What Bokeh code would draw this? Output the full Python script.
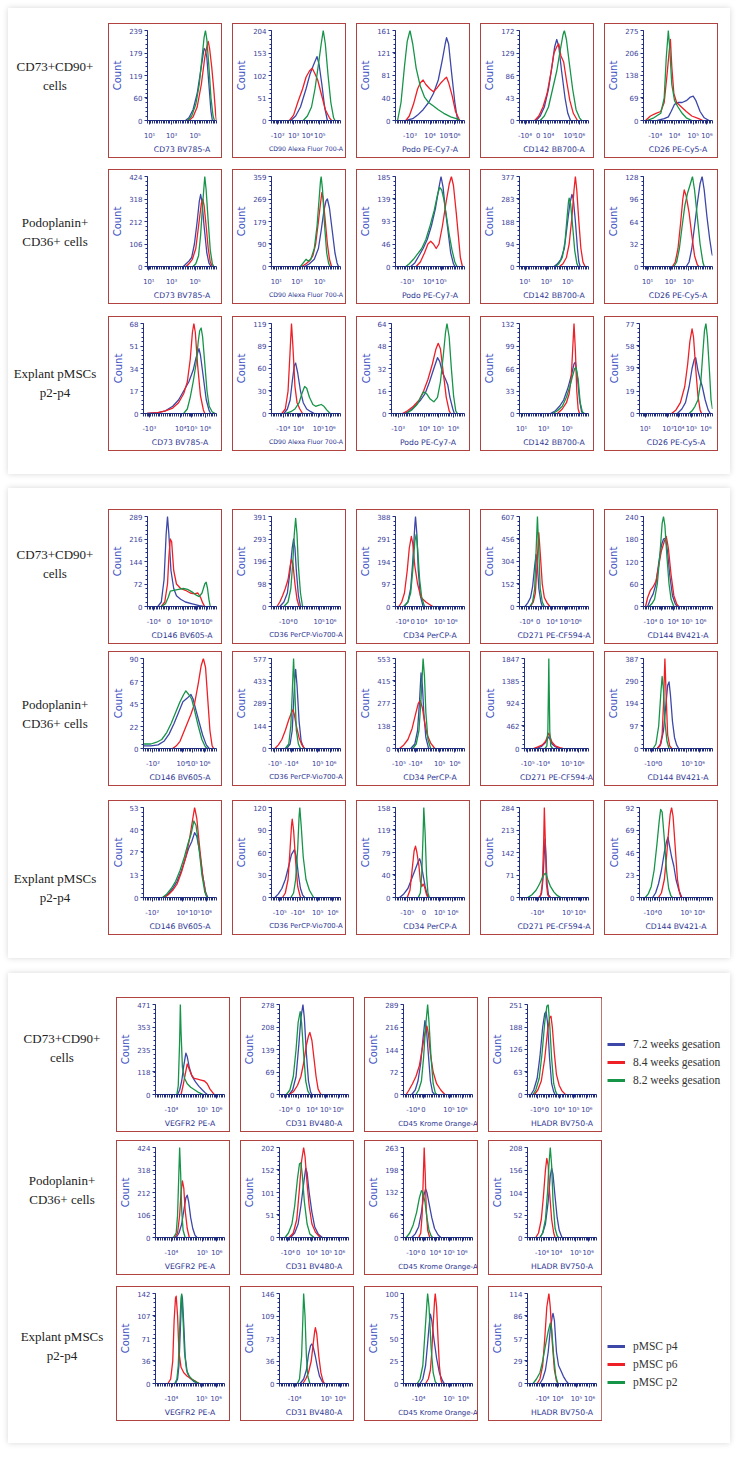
from bokeh.plotting import figure
from bokeh.models import Range1d, FixedTicker, Div, Spacer, Legend, LegendItem
from bokeh.layouts import row, column
from bokeh.embed import file_html
from bokeh.resources import INLINE

# ---------------- data ----------------
ROW_LABELS = ["CD73+CD90+<br>cells", "Podoplanin+<br>CD36+ cells", "Explant pMSCs<br>p2-p4"]
P1_MARKERS = ["CD73 BV785-A", "CD90 Alexa Fluor 700-A", "Podo PE-Cy7-A", "CD142 BB700-A", "CD26 PE-Cy5-A"]
P2_MARKERS = ["CD146 BV605-A", "CD36 PerCP-Vio700-A", "CD34 PerCP-A", "CD271 PE-CF594-A", "CD144 BV421-A"]
P3_MARKERS = ["VEGFR2 PE-A", "CD31 BV480-A", "CD45 Krome Orange-A", "HLADR BV750-A"]
LEGEND_GESTATION = ["7.2 weeks gesation", "8.4 weeks gesation", "8.2 weeks gesation"]
LEGEND_PASSAGE = ["pMSC p4", "pMSC p6", "pMSC p2"]

# curves: flat [x%, count% of axis max, ...] knots

# ---- panel 1, row 1 ----
P1R1_YT = [[0, 60, 119, 179, 239], [0, 51, 102, 153, 204], [0, 40, 81, 121, 161], [0, 43, 86, 129, 172], [0, 69, 138, 206, 275]]
P1R1_XL = [["10¹", "10³", "10⁵"], ["-10²", "10³", "10⁴", "10⁵"], ["-10³", "10⁴", "10⁵", "10⁶"], ["-10⁴", "0", "10⁴", "10⁵", "10⁶"], ["-10⁴", "10⁴", "10⁵", "10⁶"]]
P1R1_XP = [[3, 35, 69], [9, 32, 52, 70], [21, 50, 72, 86], [8, 27, 42, 72, 87], [17, 45, 72, 92]]
P1R1_BLUE = [
    [55,0, 60,3, 66,12, 72,30, 78,60, 82,80, 84,78, 86,70, 89,40, 92,10, 94,0],
    [28,0, 35,5, 42,15, 50,35, 56,52, 61,62, 66,71, 69,62, 73,40, 77,15, 81,0],
    [15,0, 25,2, 32,6, 40,12, 48,20, 55,30, 62,45, 68,68, 72,85, 74,92, 77,85, 81,55, 86,20, 90,0],
    [24,0, 30,5, 36,15, 42,35, 47,60, 51,82, 54,90, 57,82, 61,55, 66,25, 70,8, 74,0],
    [20,0, 30,2, 36,4, 40,10, 45,18, 50,20, 56,20, 62,22, 68,26, 72,27, 76,22, 82,10, 88,3, 95,0]]
P1R1_RED = [
    [60,0, 66,4, 72,15, 78,40, 83,70, 86,82, 88,88, 90,80, 93,60, 96,35, 99,5, 100,0],
    [26,0, 32,6, 38,20, 45,35, 50,48, 55,55, 59,58, 63,52, 67,45, 72,30, 78,12, 84,3, 87,0],
    [15,0, 20,5, 26,18, 32,35, 36,42, 40,45, 44,40, 50,35, 55,32, 60,36, 66,42, 71,46, 74,48, 77,42, 82,28, 87,10, 93,0],
    [22,0, 28,5, 34,15, 40,30, 46,55, 50,75, 54,82, 57,85, 60,72, 64,65, 68,45, 73,22, 78,8, 84,0],
    [3,0, 10,5, 18,8, 25,10, 30,20, 34,50, 37,75, 39,90, 41,60, 44,30, 48,20, 55,15, 62,10, 70,5, 80,2, 86,0]]
P1R1_GREEN = [
    [58,0, 64,5, 70,18, 75,40, 79,70, 82,92, 84,100, 86,90, 89,60, 92,25, 95,5, 97,0],
    [46,0, 52,5, 58,15, 63,35, 68,62, 72,85, 75,100, 78,85, 82,50, 86,20, 90,3, 92,0],
    [3,0, 8,20, 13,60, 17,88, 21,100, 25,85, 30,58, 36,38, 42,26, 48,20, 55,16, 62,12, 70,8, 80,4, 88,2, 94,0],
    [30,0, 36,5, 42,15, 48,35, 54,55, 59,78, 63,95, 65,100, 68,90, 72,65, 77,35, 82,12, 87,3, 90,0],
    [5,0, 15,3, 25,8, 30,25, 33,70, 36,100, 38,80, 41,40, 45,22, 50,15, 56,8, 62,3, 70,0]]

# ---- panel 1, row 2 ----
P1R2_YT = [[0, 106, 212, 318, 424], [0, 90, 179, 269, 359], [0, 46, 93, 139, 185], [0, 94, 188, 283, 377], [0, 32, 64, 96, 128]]
P1R2_XL = [["10¹", "10³", "10⁵"], ["10¹", "10³", "10⁵"], ["-10³", "10⁴", "10⁵"], ["10¹", "10³", "10⁵"], ["10¹", "10³", "10⁵"]]
P1R2_XP = [[2, 35, 69], [7, 37, 70], [17, 48, 66], [8, 39, 70], [6, 39, 65]]
P1R2_BLUE = [
    [52,0, 56,3, 60,6, 64,10, 68,25, 72,50, 75,72, 77,80, 79,72, 82,45, 86,15, 89,4, 92,0],
    [48,0, 55,3, 62,8, 68,20, 72,40, 76,62, 79,73, 81,75, 84,65, 88,40, 92,15, 95,4, 97,0],
    [22,0, 28,4, 34,12, 40,20, 46,30, 52,45, 58,65, 63,88, 66,100, 69,88, 72,65, 76,40, 80,15, 84,3, 86,0],
    [50,0, 55,3, 60,8, 65,20, 69,45, 73,70, 76,80, 78,75, 81,50, 84,20, 86,5, 88,0],
    [62,0, 66,5, 70,20, 74,45, 78,70, 82,92, 85,100, 88,85, 92,55, 96,30, 99,15, 100,12]]
P1R2_RED = [
    [56,0, 60,3, 65,8, 70,20, 74,45, 78,70, 80,75, 82,68, 85,45, 88,20, 91,5, 94,0],
    [44,0, 50,3, 55,6, 60,12, 64,25, 68,50, 71,70, 73,82, 75,75, 78,50, 81,25, 84,8, 87,0],
    [30,0, 36,5, 42,15, 47,25, 51,28, 55,25, 59,20, 63,25, 68,45, 73,70, 78,92, 81,100, 84,90, 88,60, 91,35, 94,10, 97,0],
    [58,0, 63,3, 68,10, 72,25, 76,55, 79,85, 81,100, 83,85, 86,50, 89,20, 92,5, 95,0],
    [42,0, 46,5, 50,20, 54,50, 57,75, 59,85, 62,78, 66,60, 70,35, 74,12, 78,2, 80,0]]
P1R2_GREEN = [
    [66,0, 70,3, 74,12, 77,35, 80,70, 82,90, 83,100, 85,85, 88,50, 91,18, 94,3, 96,0],
    [42,0, 46,4, 50,8, 53,6, 57,8, 62,20, 66,45, 69,75, 71,95, 72,100, 74,85, 77,45, 80,15, 83,3, 85,0],
    [15,0, 20,3, 26,8, 32,14, 38,20, 44,30, 50,45, 56,62, 61,80, 64,88, 67,85, 70,75, 74,55, 78,35, 82,18, 86,5, 89,0],
    [52,0, 57,3, 62,10, 66,28, 69,55, 71,72, 72,76, 74,70, 77,45, 80,18, 83,4, 85,0],
    [44,0, 48,5, 52,20, 56,45, 60,68, 64,82, 68,92, 71,100, 74,85, 78,55, 82,25, 86,5, 88,0]]

# ---- panel 1, row 3 ----
P1R3_YT = [[0, 17, 34, 51, 68], [0, 30, 60, 89, 119], [0, 16, 32, 48, 64], [0, 33, 66, 99, 132], [0, 19, 39, 58, 77]]
P1R3_XL = [["-10³", "10⁴", "10⁵", "10⁶"], ["-10⁴", "10⁴", "10⁵", "10⁶"], ["-10³", "10⁴", "10⁵", "10⁶"], ["10¹", "10³", "10⁵"], ["10¹", "10³", "10⁴", "10⁵", "10⁶"]]
P1R3_XP = [[8, 51, 66, 85], [17, 39, 68, 85], [9, 45, 64, 85], [3, 35, 69], [8, 39, 54, 71, 91]]
P1R3_BLUE = [
    [5,0, 20,1, 30,3, 40,8, 48,15, 55,25, 62,35, 68,48, 72,62, 76,72, 78,65, 82,40, 86,15, 90,3, 92,0],
    [18,0, 23,5, 27,15, 30,35, 33,53, 35,56, 38,45, 42,25, 46,12, 51,5, 57,2, 62,0],
    [18,0, 25,3, 32,8, 40,15, 46,22, 52,35, 58,50, 63,62, 66,58, 70,45, 74,38, 77,32, 80,18, 84,5, 86,0],
    [45,0, 52,3, 58,8, 64,15, 70,28, 75,42, 79,55, 81,57, 84,40, 87,15, 90,2, 92,0],
    [52,0, 58,5, 63,12, 68,30, 72,50, 75,60, 77,62, 80,48, 83,38, 86,30, 90,15, 94,4, 97,0]]
P1R3_RED = [
    [5,0, 20,1, 30,3, 40,6, 48,12, 55,22, 60,35, 64,60, 67,90, 69,100, 71,90, 74,55, 78,20, 82,4, 84,0],
    [15,0, 20,5, 24,25, 27,70, 29,100, 31,75, 34,30, 37,12, 41,5, 45,0],
    [15,0, 22,3, 30,8, 38,15, 44,25, 50,38, 56,55, 61,72, 64,78, 67,72, 71,45, 75,18, 79,3, 81,0],
    [55,0, 62,5, 68,12, 72,22, 75,40, 77,70, 79,100, 81,70, 83,25, 85,5, 87,0],
    [44,0, 50,4, 56,12, 62,30, 66,55, 69,80, 72,94, 74,85, 77,50, 80,20, 83,4, 85,0]]
P1R3_GREEN = [
    [55,0, 60,5, 64,18, 68,35, 72,55, 75,80, 77,92, 79,95, 81,85, 84,55, 87,25, 90,8, 94,2, 98,0],
    [20,0, 28,2, 34,5, 40,12, 44,22, 48,30, 51,28, 55,18, 60,10, 64,8, 68,9, 72,10, 76,8, 80,4, 85,0],
    [20,0, 28,4, 35,10, 40,18, 44,24, 48,22, 53,16, 58,13, 63,18, 67,35, 71,65, 74,90, 76,100, 79,85, 82,50, 85,20, 88,3, 90,0],
    [48,0, 55,3, 62,8, 68,18, 73,30, 77,42, 80,50, 82,51, 85,38, 88,12, 91,2, 94,0],
    [68,0, 72,3, 76,8, 80,15, 84,35, 87,70, 89,92, 91,100, 93,85, 96,45, 98,15, 100,5]]

# ---- panel 2, row 1 ----
P2R1_YT = [[0, 72, 144, 216, 289], [0, 98, 196, 293, 391], [0, 97, 194, 291, 388], [0, 152, 304, 456, 607], [0, 60, 120, 180, 240]]
P2R1_XL = [["-10⁴", "0", "10⁴", "10⁵", "10⁶"], ["-10⁴", "0", "10⁵", "10⁶"], ["-10⁴", "0", "10⁴", "10⁵", "10⁶"], ["-10⁴", "0", "10⁴", "10⁵", "10⁶"], ["-10⁴", "0", "10⁴", "10⁵", "10⁶"]]
P2R1_XP = [[9, 31, 52, 71, 86], [21, 35, 69, 86], [10, 25, 38, 64, 82], [10, 27, 47, 66, 82], [10, 26, 43, 63, 83]]
P2R1_BLUE = [
    [15,0, 20,5, 24,30, 27,80, 29,100, 31,80, 34,40, 38,20, 42,12, 48,8, 55,5, 65,3, 75,1, 82,0],
    [12,0, 18,5, 23,15, 27,40, 30,65, 32,75, 34,65, 36,40, 39,12, 42,0],
    [12,0, 18,5, 22,20, 25,50, 28,90, 29,100, 31,80, 33,40, 36,12, 40,0],
    [8,0, 12,4, 16,10, 19,22, 22,45, 24,58, 26,45, 28,20, 31,5, 33,0],
    [6,0, 10,8, 14,14, 18,25, 22,48, 26,68, 29,75, 32,76, 35,60, 38,35, 42,12, 46,3, 49,0]]
P2R1_RED = [
    [20,0, 25,5, 29,25, 31,55, 33,75, 35,72, 38,40, 42,25, 48,20, 55,18, 62,15, 68,14, 73,15, 77,10, 80,4, 83,0],
    [8,0, 12,5, 16,12, 20,20, 24,30, 27,45, 29,52, 31,48, 34,25, 37,8, 40,0],
    [5,0, 9,5, 13,15, 17,40, 20,65, 23,78, 25,70, 28,45, 32,25, 37,10, 44,5, 50,2, 54,0],
    [16,0, 20,5, 23,15, 25,40, 27,70, 28,82, 30,60, 33,25, 36,10, 40,4, 44,0],
    [3,0, 6,10, 10,18, 14,22, 18,28, 22,45, 26,62, 30,72, 33,78, 36,65, 40,35, 44,12, 48,3, 51,0]]
P2R1_GREEN = [
    [20,0, 26,3, 30,10, 33,17, 38,18, 45,19, 52,20, 58,19, 65,16, 70,13, 75,11, 79,15, 83,25, 85,27, 87,20, 89,8, 91,0],
    [18,0, 24,5, 28,20, 31,50, 33,80, 35,98, 37,80, 39,45, 42,15, 45,0],
    [12,0, 18,5, 22,15, 25,40, 28,72, 30,80, 32,65, 35,30, 38,10, 42,0],
    [15,0, 19,5, 22,20, 24,60, 26,100, 28,60, 30,20, 33,5, 36,0],
    [8,0, 12,3, 16,8, 20,25, 24,60, 27,92, 29,100, 31,90, 34,55, 37,25, 40,8, 44,0]]

# ---- panel 2, row 2 ----
P2R2_YT = [[0, 22, 45, 67, 90], [0, 144, 289, 433, 577], [0, 138, 277, 415, 553], [0, 462, 924, 1385, 1847], [0, 97, 194, 290, 387]]
P2R2_XL = [["-10²", "10⁴", "10⁵", "10⁶"], ["-10⁵", "-10⁴", "10⁵", "10⁶"], ["-10⁵", "-10⁴", "10⁵", "10⁶"], ["-10⁵", "-10⁴", "10⁵", "10⁶"], ["-10⁴", "0", "10⁵", "10⁶"]]
P2R2_XP = [[13, 53, 67, 84], [5, 29, 67, 86], [5, 29, 64, 86], [5, 29, 66, 85], [11, 24, 63, 81]]
P2R2_BLUE = [
    [0,3, 10,3, 20,4, 28,8, 35,16, 42,28, 48,40, 54,52, 60,56, 65,60, 68,55, 72,42, 76,30, 81,15, 86,4, 90,0],
    [22,0, 27,5, 30,20, 32,50, 34,80, 35,88, 37,70, 40,30, 43,8, 47,0],
    [22,0, 28,5, 32,20, 35,55, 37,84, 39,70, 41,40, 44,12, 48,0],
    [18,0, 26,2, 32,6, 36,11, 38,13, 40,10, 43,5, 48,2, 54,0],
    [20,0, 25,5, 29,20, 32,45, 35,70, 37,74, 39,60, 42,30, 45,12, 48,4, 51,0]]
P2R2_RED = [
    [40,0, 45,3, 50,8, 55,18, 60,28, 65,38, 70,50, 75,72, 79,92, 82,100, 85,90, 88,55, 91,20, 94,3, 96,0],
    [5,0, 10,4, 15,10, 20,20, 25,32, 29,40, 31,43, 33,38, 36,25, 40,12, 44,4, 48,0],
    [6,0, 12,4, 18,10, 24,22, 29,38, 33,50, 36,53, 39,45, 42,30, 46,15, 51,6, 57,0],
    [14,0, 22,2, 28,4, 33,8, 36,14, 38,17, 40,13, 43,7, 48,3, 55,1, 60,0],
    [20,0, 24,3, 27,15, 29,50, 31,100, 33,55, 35,15, 38,3, 41,0]]
P2R2_GREEN = [
    [0,5, 10,5, 18,7, 25,10, 32,18, 38,28, 44,40, 50,52, 55,60, 58,64, 62,60, 66,55, 70,42, 75,25, 80,10, 84,3, 87,0],
    [20,0, 25,5, 28,25, 30,60, 32,100, 34,60, 36,20, 39,5, 42,0],
    [25,0, 30,5, 34,20, 37,55, 39,85, 40,100, 42,80, 44,40, 47,10, 51,0],
    [32,0, 35,3, 36.5,20, 37.5,70, 38,100, 38.5,70, 39.5,20, 41,3, 44,0],
    [14,0, 18,5, 22,25, 25,60, 27,80, 29,65, 31,30, 34,8, 37,0]]

# ---- panel 2, row 3 ----
P2R3_YT = [[0, 13, 27, 40, 53], [0, 30, 60, 90, 120], [0, 40, 79, 119, 158], [0, 71, 142, 213, 284], [0, 23, 46, 69, 92]]
P2R3_XL = [["-10²", "10⁴", "10⁵", "10⁶"], ["-10⁵", "-10⁴", "10⁵", "10⁶"], ["-10⁵", "0", "10⁵", "10⁶"], ["-10⁴", "10⁵", "10⁶"], ["-10⁴", "0", "10⁵", "10⁶"]]
P2R3_XP = [[12, 53, 70, 86], [12, 38, 67, 89], [17, 41, 64, 83], [26, 70, 88], [15, 28, 64, 82]]
P2R3_BLUE = [
    [28,0, 34,4, 40,10, 46,18, 52,30, 58,45, 62,55, 66,62, 70,72, 73,68, 77,50, 81,25, 85,6, 88,0],
    [5,0, 10,4, 15,10, 20,20, 25,35, 29,48, 33,53, 36,45, 39,25, 42,10, 45,3, 48,0],
    [6,0, 12,4, 18,10, 24,22, 29,32, 33,40, 35,43, 37,38, 40,25, 43,12, 46,3, 48,0],
    [29,0, 32,5, 34,20, 36,50, 37,65, 38.5,45, 40,15, 42,3, 45,0],
    [18,0, 22,5, 26,15, 30,30, 34,50, 37,62, 39,67, 41,58, 44,45, 47,35, 50,20, 54,8, 58,0]]
P2R3_RED = [
    [28,0, 34,3, 40,8, 46,15, 52,28, 58,45, 63,65, 67,85, 70,100, 73,88, 77,55, 81,25, 85,5, 87,0],
    [16,0, 20,5, 24,20, 27,55, 29,80, 30,87, 32,75, 35,40, 38,12, 42,0],
    [17,0, 21,8, 24,30, 27,52, 29,57, 31,50, 34,35, 36,18, 38,12, 40,15, 42,12, 45,3, 47,0],
    [28,0, 31,3, 33,15, 35,60, 36,100, 37.5,60, 39,15, 41,3, 44,0],
    [26,0, 30,5, 34,20, 37,45, 40,75, 42,92, 44,100, 46,90, 49,55, 52,20, 55,5, 57,0]]
P2R3_GREEN = [
    [26,0, 32,4, 38,10, 44,18, 50,30, 56,45, 61,60, 65,70, 69,85, 72,80, 76,55, 80,25, 84,6, 87,0],
    [28,0, 32,5, 35,20, 38,55, 40,90, 41,100, 43,80, 46,45, 50,20, 55,8, 61,0],
    [33,0, 36,5, 38,25, 40,70, 41,100, 43,70, 45,25, 47,5, 49,0],
    [12,0, 18,3, 24,8, 29,15, 33,22, 36,26, 38,27, 41,20, 45,12, 50,6, 55,2, 60,0],
    [8,0, 12,4, 16,12, 20,30, 24,60, 27,85, 29,98, 31,95, 34,65, 37,30, 40,10, 43,2, 45,0]]

# ---- panel 3, row 1 ----
P3R1_YT = [[0, 118, 235, 353, 471], [0, 69, 139, 208, 278], [0, 72, 144, 216, 289], [0, 63, 126, 188, 251]]
P3R1_XL = [["-10⁴", "10⁵", "10⁶"], ["-10⁴", "0", "10⁴", "10⁵", "10⁶"], ["-10⁴", "0", "10⁵", "10⁶"], ["-10⁴", "0", "10⁴", "10⁵", "10⁶"]]
P3R1_XP = [[23, 68, 89], [9, 27, 47, 67, 85], [14, 29, 66, 85], [14, 28, 46, 67, 86]]
P3R1_BLUE = [
    [32,0, 35,5, 38,15, 41,32, 44,46, 46,42, 49,30, 53,20, 58,14, 63,9, 68,5, 72,2, 75,0],
    [14,0, 19,5, 24,20, 28,55, 31,85, 34,100, 36,85, 39,45, 42,15, 45,3, 47,0],
    [12,0, 17,5, 21,15, 25,35, 28,60, 31,82, 33,75, 36,45, 39,15, 42,3, 45,0],
    [5,0, 9,5, 14,18, 18,42, 22,75, 25,90, 27,92, 29,80, 32,40, 35,12, 38,3, 40,0]]
P3R1_RED = [
    [37,0, 40,10, 43,22, 46,34, 48,30, 52,22, 56,18, 61,17, 66,16, 71,15, 75,12, 79,6, 83,2, 85,0],
    [14,0, 20,3, 26,10, 31,20, 35,35, 39,55, 42,65, 44,69, 47,60, 50,40, 53,20, 56,6, 60,0],
    [4,0, 8,5, 13,12, 18,20, 23,32, 27,50, 31,68, 34,76, 36,68, 39,45, 43,25, 48,12, 54,5, 60,0],
    [10,0, 15,5, 20,15, 25,40, 29,70, 32,85, 34,87, 36,75, 39,45, 42,22, 46,10, 50,4, 55,0]]
P3R1_GREEN = [
    [31,0, 33,10, 35,60, 36,100, 37,70, 39,30, 42,18, 46,12, 51,8, 57,5, 63,2, 69,0],
    [10,0, 15,5, 20,20, 24,50, 27,80, 30,92, 32,80, 35,45, 38,15, 41,4, 44,0],
    [18,0, 22,5, 26,15, 29,40, 32,75, 35,100, 37,80, 40,40, 43,12, 46,2, 48,0],
    [8,0, 12,5, 17,18, 21,45, 25,80, 28,98, 30,100, 32,80, 35,40, 38,12, 41,3, 43,0]]

# ---- panel 3, row 2 ----
P3R2_YT = [[0, 106, 212, 318, 424], [0, 51, 101, 152, 202], [0, 66, 132, 198, 263], [0, 52, 104, 156, 208]]
P3R2_XL = [["-10⁴", "10⁵", "10⁶"], ["-10⁴", "0", "10⁴", "10⁵", "10⁶"], ["-10⁴", "0", "10⁴", "10⁵", "10⁶"], ["-10⁴", "10⁴", "10⁵", "10⁶"]]
P3R2_XP = [[23, 68, 89], [12, 27, 47, 68, 87], [14, 29, 46, 66, 85], [21, 42, 70, 88]]
P3R2_BLUE = [
    [30,0, 34,5, 38,15, 41,30, 44,44, 46,47, 48,40, 51,22, 54,10, 57,3, 60,0],
    [16,0, 22,5, 27,15, 31,35, 35,60, 38,77, 40,72, 43,50, 47,28, 51,12, 56,4, 62,0],
    [12,0, 17,4, 22,12, 26,28, 29,45, 32,54, 34,50, 37,38, 41,22, 45,10, 50,3, 54,0],
    [18,0, 22,5, 26,15, 30,40, 33,68, 35,77, 37,70, 40,45, 43,22, 46,8, 50,0]]
P3R2_RED = [
    [28,0, 32,5, 35,25, 37,50, 39,63, 41,55, 43,30, 46,10, 49,0],
    [14,0, 20,5, 25,20, 29,55, 32,85, 35,100, 37,90, 40,60, 43,35, 47,15, 52,6, 59,0],
    [22,0, 25,5, 27,25, 29,75, 30,100, 31.5,70, 33,30, 35,8, 38,0],
    [12,0, 16,5, 20,20, 23,45, 26,75, 28,88, 30,80, 32,50, 35,20, 38,5, 40,0]]
P3R2_GREEN = [
    [26,0, 30,5, 32,25, 34,75, 35,100, 36.5,70, 38,30, 40,8, 43,0],
    [8,0, 13,5, 18,15, 22,35, 26,65, 29,82, 31,83, 33,70, 36,40, 40,15, 44,4, 50,0],
    [4,0, 9,5, 14,14, 19,28, 23,44, 26,52, 28,50, 31,40, 34,22, 37,8, 40,2, 42,0],
    [18,0, 22,5, 26,20, 29,50, 31,80, 33,100, 35,80, 37,40, 40,10, 43,2, 45,0]]

# ---- panel 3, row 3 ----
P3R3_YT = [[0, 36, 71, 107, 142], [0, 36, 73, 109, 146], [0, 25, 50, 75, 100], [0, 29, 57, 86, 114]]
P3R3_XL = [["-10⁴", "10⁵", "10⁶"], ["-10⁴", "10⁵", "10⁶"], ["-10⁴", "10⁵", "10⁶"], ["-10⁴", "10⁴", "10⁵", "10⁶"]]
P3R3_XP = [[23, 67, 88], [22, 68, 88], [22, 66, 87], [22, 44, 71, 90]]
P3R3_BLUE = [
    [29,0, 32,5, 34,20, 36,60, 38,98, 39,95, 41,65, 43,30, 46,12, 50,6, 56,2, 62,0],
    [30,0, 35,5, 39,15, 42,32, 45,42, 47,44, 49,40, 52,30, 55,18, 58,8, 62,2, 65,0],
    [24,0, 28,5, 32,20, 35,45, 38,72, 39,77, 41,70, 44,50, 48,28, 52,12, 56,4, 59,0],
    [18,0, 22,5, 26,15, 30,35, 33,60, 36,75, 37,78, 39,70, 42,35, 45,20, 48,15, 52,8, 56,3, 59,0]]
P3R3_RED = [
    [18,0, 22,5, 25,25, 27,70, 29,95, 30,97, 32,75, 34,35, 37,18, 41,12, 46,8, 52,5, 57,3, 63,0],
    [34,0, 38,5, 42,12, 46,25, 49,45, 51,58, 52,62, 54,55, 57,30, 60,12, 63,3, 65,0],
    [32,0, 36,5, 39,15, 41,35, 43,65, 45,92, 46,100, 48,85, 50,50, 52,20, 54,5, 56,0],
    [14,0, 18,5, 22,20, 25,50, 28,85, 31,100, 33,85, 36,45, 39,15, 42,3, 44,0]]
P3R3_GREEN = [
    [28,0, 31,5, 33,20, 35,60, 37,95, 38,100, 40,70, 42,35, 45,15, 49,8, 54,4, 60,1, 64,0],
    [26,0, 29,5, 32,30, 34,75, 35,100, 37,75, 39,30, 41,8, 44,0],
    [20,0, 24,5, 28,20, 31,55, 34,90, 35,100, 37,85, 40,40, 43,12, 46,2, 48,0],
    [8,0, 13,5, 18,12, 22,25, 26,42, 30,58, 33,67, 35,60, 38,30, 41,8, 44,0]]

# ---------------- style ----------------
BLUE, RED, GREEN = "#3d47a8", "#ee1f26", "#169448"
AXIS_C, TICK_C, COUNT_C, XLAB_C, BOX_C = "#232f80", "#3b419a", "#4252c2", "#2e3592", "#b0433f"
H, W = 133, 112          # figure size; the red frame is drawn 1px outside it
AX_FONT = "DejaVu Sans"
SERIF = "Liberation Serif"


def label_em(text):
    """rough width of a DejaVu Sans string, in em"""
    em = 0.0
    for ch in text:
        if ch == " ":
            em += 0.32
        elif ch == "-":
            em += 0.36
        elif ch.isdigit():
            em += 0.636
        elif ch.isupper():
            em += 0.70
        elif ch in "iljtfr":
            em += 0.36
        else:
            em += 0.62
    return em


def hist(yt, xl, xp, curves, xlabel):
    ymax = yt[-1]
    p = figure(width=W, height=H, output_backend="svg", toolbar_location=None,
               x_range=Range1d(0, 100), y_range=Range1d(0, ymax),
               min_border_left=29, min_border_right=5, min_border_top=6,
               min_border_bottom=H - 6 - 90,
               background_fill_color="white", border_fill_color="white",
               outline_line_color=None, frame_align=False,
               styles={"box-shadow": f"0px 0px 0px 1px {BOX_C}"})
    p.title.visible = False
    p.grid.visible = False
    for flat, col in zip(curves, (BLUE, RED, GREEN)):
        xs = flat[0::2]
        ys = [v * ymax / 100.0 for v in flat[1::2]]
        p.line(xs, ys, line_color=col, line_width=1.3, line_join="round")
    xa, ya = p.xaxis[0], p.yaxis[0]
    xa.ticker = FixedTicker(ticks=xp, minor_ticks=[i * 2.5 for i in range(41)])
    xa.major_label_overrides = {t: l for t, l in zip(xp, xl)}
    ya.ticker = FixedTicker(ticks=yt, minor_ticks=[ymax * i / 20.0 for i in range(21)])
    for ax in (xa, ya):
        ax.axis_line_color = AXIS_C
        ax.major_tick_line_color = AXIS_C
        ax.minor_tick_line_color = AXIS_C
        ax.major_tick_in = 0
        ax.minor_tick_in = 0
        ax.major_label_text_color = TICK_C
        ax.major_label_text_font = AX_FONT
        ax.axis_label_text_font = AX_FONT
        ax.axis_label_text_font_style = "normal"
    xa.major_tick_out = 4
    xa.minor_tick_out = 3
    xa.major_label_text_font_size = "6.8px"
    xa.major_label_standoff = 7
    xa.axis_label = xlabel
    fs = min(7.7, 76.0 / label_em(xlabel))
    xa.axis_label_text_font_size = f"{fs:.2f}px"
    xa.axis_label_text_color = XLAB_C
    xa.axis_label_standoff = 2
    ya.major_tick_out = 3
    ya.minor_tick_out = 2
    ya.major_label_text_font_size = "7px"
    ya.major_label_standoff = 2
    ya.axis_label = "Count"
    ya.axis_label_text_font_size = "10px"
    ya.axis_label_text_color = COUNT_C
    ya.axis_label_standoff = 3
    return p


def label_block(text, lead, width, top):
    d = Div(text=text, width=width, margin=0,
            styles={"font-family": SERIF, "font-size": "13px", "line-height": "19px",
                    "color": "#222222", "text-align": "center"})
    col = column([Spacer(height=top, width=width), d], spacing=0)
    return row([Spacer(width=lead, height=10), col], spacing=0)


def legend_fig(texts, top):
    p = figure(width=120, height=H, output_backend="svg", toolbar_location=None,
               x_axis_location=None, y_axis_location=None,
               min_border_left=6, min_border_top=top, min_border_right=0, min_border_bottom=0,
               x_range=Range1d(0, 1), y_range=Range1d(0, 1), outline_line_color=None,
               frame_align=False)
    p.title.visible = False
    p.grid.visible = False
    rs = [p.line([-5, -4], [-5, -5], line_color=c, line_width=3) for c in (BLUE, RED, GREEN)]
    leg = Legend(items=[LegendItem(label=t, renderers=[r]) for t, r in zip(texts, rs)],
                 location="top_left", orientation="vertical",
                 label_text_font=SERIF, label_text_font_size="11.5px",
                 label_text_color="#333333", glyph_width=18, glyph_height=4,
                 label_height=18, label_standoff=8, spacing=0, padding=0, margin=0,
                 border_line_color=None, background_fill_alpha=0)
    p.add_layout(leg)
    return p


def build_row(label, lead, lw, ltop, markers, yts, xls, xps, blues, reds, greens, extra=None):
    figs = [hist(yts[i], xls[i], xps[i], (blues[i], reds[i], greens[i]), markers[i])
            for i in range(len(markers))]
    if extra is not None:
        figs[-1] = row([figs[-1], extra], spacing=0)
    return row([label_block(label, lead, lw, ltop)] + figs, spacing=12)


def card(rows, pads):
    kids = [Spacer(height=pads[0], width=10)]
    for i, r in enumerate(rows):
        kids.append(r)
        kids.append(Spacer(height=pads[i + 1], width=10))
    return column(kids, width=722, spacing=0,
                  styles={"background-color": "white",
                          "box-shadow": "0px 0px 6px rgba(0,0,0,0.16)"})


card1 = card([
    build_row(ROW_LABELS[0], 5, 84, 33, P1_MARKERS, P1R1_YT, P1R1_XL, P1R1_XP, P1R1_BLUE, P1R1_RED, P1R1_GREEN),
    build_row(ROW_LABELS[1], 5, 84, 43, P1_MARKERS, P1R2_YT, P1R2_XL, P1R2_XP, P1R2_BLUE, P1R2_RED, P1R2_GREEN),
    build_row(ROW_LABELS[2], 5, 84, 47, P1_MARKERS, P1R3_YT, P1R3_XL, P1R3_XP, P1R3_BLUE, P1R3_RED, P1R3_GREEN),
], [16, 13, 14, 24])

card2 = card([
    build_row(ROW_LABELS[0], 5, 84, 35, P2_MARKERS, P2R1_YT, P2R1_XL, P2R1_XP, P2R1_BLUE, P2R1_RED, P2R1_GREEN),
    build_row(ROW_LABELS[1], 5, 84, 43, P2_MARKERS, P2R2_YT, P2R2_XL, P2R2_XP, P2R2_BLUE, P2R2_RED, P2R2_GREEN),
    build_row(ROW_LABELS[2], 5, 84, 68, P2_MARKERS, P2R3_YT, P2R3_XL, P2R3_XP, P2R3_BLUE, P2R3_RED, P2R3_GREEN),
], [22, 9, 16, 24])

card3 = card([
    build_row(ROW_LABELS[0], 11, 86, 31, P3_MARKERS, P3R1_YT, P3R1_XL, P3R1_XP, P3R1_BLUE, P3R1_RED, P3R1_GREEN,
              extra=legend_fig(LEGEND_GESTATION, 37)),
    build_row(ROW_LABELS[1], 11, 86, 30, P3_MARKERS, P3R2_YT, P3R2_XL, P3R2_XP, P3R2_BLUE, P3R2_RED, P3R2_GREEN,
              extra=Spacer(width=120, height=H)),
    build_row(ROW_LABELS[2], 11, 86, 40, P3_MARKERS, P3R3_YT, P3R3_XL, P3R3_XP, P3R3_BLUE, P3R3_RED, P3R3_GREEN,
              extra=legend_fig(LEGEND_PASSAGE, 50)),
], [25, 10, 13, 23])

content = column([card1, Spacer(height=14, width=10), card2, Spacer(height=15, width=10), card3], spacing=0)
page = column([Spacer(height=8, width=10), row([Spacer(width=8, height=10), content], spacing=0)], spacing=0)

open("out.html", "w").write(file_html(page, INLINE, title="Flow cytometry histograms"))
